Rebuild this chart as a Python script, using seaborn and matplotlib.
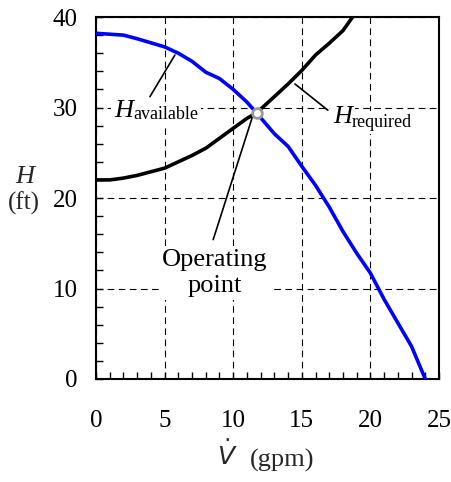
import numpy as np
import pandas as pd
import matplotlib
matplotlib.use("Agg")
import matplotlib.pyplot as plt
from matplotlib.ticker import MultipleLocator
import seaborn as sns

# curves
flow_avail = [0, 2, 3, 5, 6, 7, 8, 9, 10, 11, 11.7, 13, 14, 15, 16, 17, 18, 19, 20, 21, 22, 23, 24]
head_avail = [38.2, 38.0, 37.6, 36.7, 36.0, 35.1, 33.9, 33.2, 32.0, 30.6, 29.4, 27.1, 25.7, 23.5,
              21.4, 19.0, 16.3, 13.9, 11.7, 8.8, 6.2, 3.6, 0.0]
flow_req = [0, 1, 2, 3, 5, 7, 8, 9, 10, 11, 11.7, 13, 14, 15, 16, 17, 18, 18.7]
head_req = [22.0, 22.0, 22.2, 22.5, 23.3, 24.7, 25.5, 26.6, 27.7, 28.8, 29.4, 31.2, 32.6, 34.1,
            35.8, 37.1, 38.5, 40.0]
op_flow = [11.7]
op_head = [29.4]

x_ticks = [0, 5, 10, 15, 20, 25]
y_ticks = [0, 10, 20, 30, 40]

avail = pd.DataFrame({"V": flow_avail, "H": head_avail})
req = pd.DataFrame({"V": flow_req, "H": head_req})

sns.set_style("ticks")
plt.rcParams["font.family"] = ["Liberation Serif", "DejaVu Serif"]

fig = plt.figure(figsize=(4.51, 4.82), dpi=100)
ax = fig.add_axes([0.2129, 0.2137, 0.7605, 0.7510])

sns.lineplot(data=avail, x="V", y="H", color="#0000ff", lw=2.6, ax=ax, zorder=4)
sns.lineplot(data=req, x="V", y="H", color="black", lw=2.6, ax=ax, zorder=4)
ax.plot(op_flow, op_head, "o", ms=7, mfc="white", mec="#999999", mew=2, zorder=6)

ax.set_xlim(0, 25)
ax.set_ylim(0, 40)
ax.set_xticks(x_ticks)
ax.set_yticks(y_ticks)
ax.xaxis.set_minor_locator(MultipleLocator(1))
ax.yaxis.set_minor_locator(MultipleLocator(2))
ax.tick_params(axis="both", which="both", direction="in", colors="black", labelsize=18,
               top=False, right=False)
ax.tick_params(axis="both", which="both", length=5, width=1)
ax.tick_params(axis="x", pad=22)
ax.tick_params(axis="y", pad=13)
for s in ax.spines.values():
    s.set_linewidth(1.5)
    s.set_color("black")
ax.grid(True, which="major", color="black", ls=(0, (6, 4)), lw=0.8)
ax.set_axisbelow(True)
ax.set_xlabel("")
ax.set_ylabel("")

box = dict(facecolor="white", edgecolor="none", pad=2)
line = dict(arrowstyle="-", color="black", lw=1.2, shrinkA=0, shrinkB=0)


def label(x, y, s, **kw):
    # white patch behind the text first, then the text itself on top
    ax.text(x, y, s, color="none", bbox=box, zorder=2.9, **kw)
    ax.text(x, y, s, color="black", zorder=3.1, **kw)


# H_available label
label(2.7, 28.95, "H", fontsize=19, style="italic", ha="right", va="baseline")
label(2.7, 28.7, "available", fontsize=13, ha="left", va="baseline")
ax.annotate("", xy=(5.75, 35.8), xytext=(3.93, 31.2), arrowprops=line, zorder=5)

# H_required label
label(18.66, 28.3, "H", fontsize=19, style="italic", ha="right", va="baseline")
label(18.66, 27.85, "required", fontsize=13, ha="left", va="baseline")
ax.annotate("", xy=(14.5, 32.6), xytext=(16.9, 29.7), arrowprops=line, zorder=5)

# operating point label
label(8.64, 11.7, "Operating\npoint", fontsize=19, ha="center", va="center", linespacing=1.25)
ax.annotate("", xy=(11.45, 29.2), xytext=(8.54, 15.4), arrowprops=line, zorder=5)

fig.text(25 / 451, 1 - 177 / 482, "H", fontsize=19, style="italic", ha="center", va="center")
fig.text(24 / 451, 1 - 203 / 482, "(ft)", fontsize=18, ha="center", va="center")
fig.text(227 / 451, 1 - 465 / 482, r"$\dot{V}$", math_fontfamily="dejavusans", fontsize=18,
         ha="center", va="baseline")
fig.text(282 / 451, 1 - 467 / 482, "(gpm)", fontsize=19, ha="center", va="baseline")

fig.savefig("out.png", dpi=100)
